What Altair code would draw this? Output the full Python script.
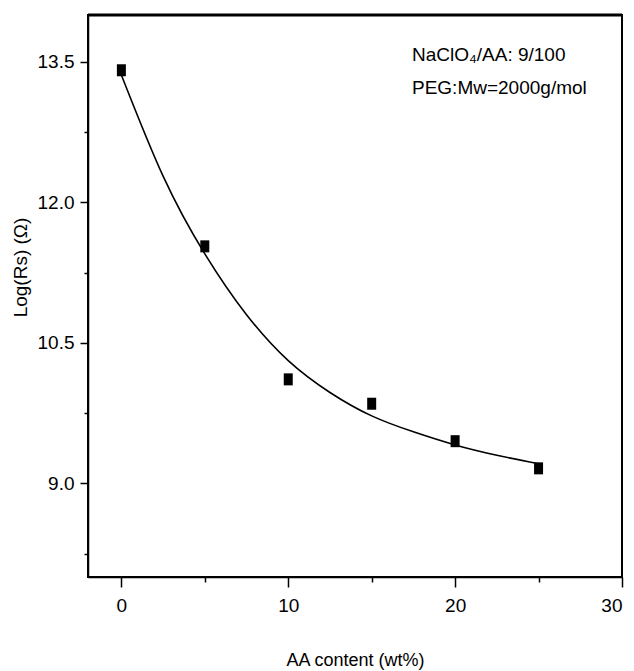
import altair as alt
import pandas as pd

# measured points
aa_content = [0, 5, 10, 15, 20, 25]
log_rs = [13.41, 11.53, 10.11, 9.85, 9.45, 9.16]

# fitted curve
curve_x = [0, 2.5, 5, 7.5, 10, 12.5, 15, 17.5, 20, 22.5, 25]
curve_y = [13.36, 12.28, 11.45, 10.80, 10.31, 9.97, 9.72, 9.55, 9.41, 9.30, 9.21]

notes = ["NaClO\u2084/AA: 9/100", "PEG:Mw=2000g/mol"]

x_ticks = [0, 5, 10, 15, 20, 25, 30]
y_ticks = [8.25, 9.0, 9.75, 10.5, 11.25, 12.0, 12.75, 13.5]

FONT = "Liberation Sans, Arial"

pts = pd.DataFrame({"x": aa_content, "y": log_rs})
crv = pd.DataFrame({"x": curve_x, "y": curve_y})

xscale = alt.Scale(domain=[-2, 30], nice=False, zero=False)
yscale = alt.Scale(domain=[8, 14], nice=False, zero=False)

xaxis = alt.Axis(
    values=x_ticks, grid=False, title="AA content (wt%)",
    labelExpr="datum.value % 10 === 0 ? datum.label : ''",
    tickSize={"condition": {"test": "datum.value % 10 === 0", "value": 10}, "value": 5},
    tickColor="black", tickWidth=1.5, domainColor="black", domainWidth=1.5,
    labelFont=FONT, labelFontSize=19, labelColor="black", labelPadding=9,
    titleFont=FONT, titleFontSize=18, titleFontWeight="normal", titleColor="black",
    titleY=83, titleBaseline="middle",
)
yaxis = alt.Axis(
    values=y_ticks, grid=False, title="Log(Rs)   (\u03a9)", format=".1f",
    labelExpr="(datum.value - 9) % 1.5 === 0 ? datum.label : ''",
    tickSize={"condition": {"test": "(datum.value - 9) % 1.5 === 0", "value": 8}, "value": 4},
    tickColor="black", tickWidth=1.5, domainColor="black", domainWidth=1.5,
    labelFont=FONT, labelFontSize=19, labelColor="black", labelPadding=6,
    titleFont=FONT, titleFontSize=19, titleFontWeight="normal", titleColor="black",
    titleX=-68, titleY=252, titleAlign="center", titleBaseline="middle",
)

line = alt.Chart(crv).mark_line(color="black", strokeWidth=1.6, interpolate="natural").encode(
    x=alt.X("x:Q", scale=xscale, axis=xaxis),
    y=alt.Y("y:Q", scale=yscale, axis=yaxis),
)

points = alt.Chart(pts).mark_point(
    shape="M-0.75,-1L0.75,-1L0.75,1L-0.75,1Z", size=144, filled=True, color="black", opacity=1
).encode(x=alt.X("x:Q", scale=xscale), y=alt.Y("y:Q", scale=yscale))

texts = [
    alt.Chart(pd.DataFrame({"t": [s]})).mark_text(
        align="left", baseline="middle", font=FONT, fontSize=19, color="black"
    ).encode(x=alt.value(324), y=alt.value(yy), text="t:N")
    for s, yy in zip(notes, [40, 73])
]

top = alt.Chart(pd.DataFrame({"a": [0]})).mark_rule(color="black", strokeWidth=3).encode(
    x=alt.value(0), x2=alt.value(534), y=alt.value(0)
)

chart = alt.layer(line, points, *texts, top).properties(
    width=534, height=562,
    autosize=alt.AutoSizeParams(type="none"),
    padding={"left": 88, "top": 15, "right": 12, "bottom": 94},
    background="white",
).configure_view(stroke="black", strokeWidth=2)

chart.save("out.html", embed_options={"renderer": "svg", "actions": False})
